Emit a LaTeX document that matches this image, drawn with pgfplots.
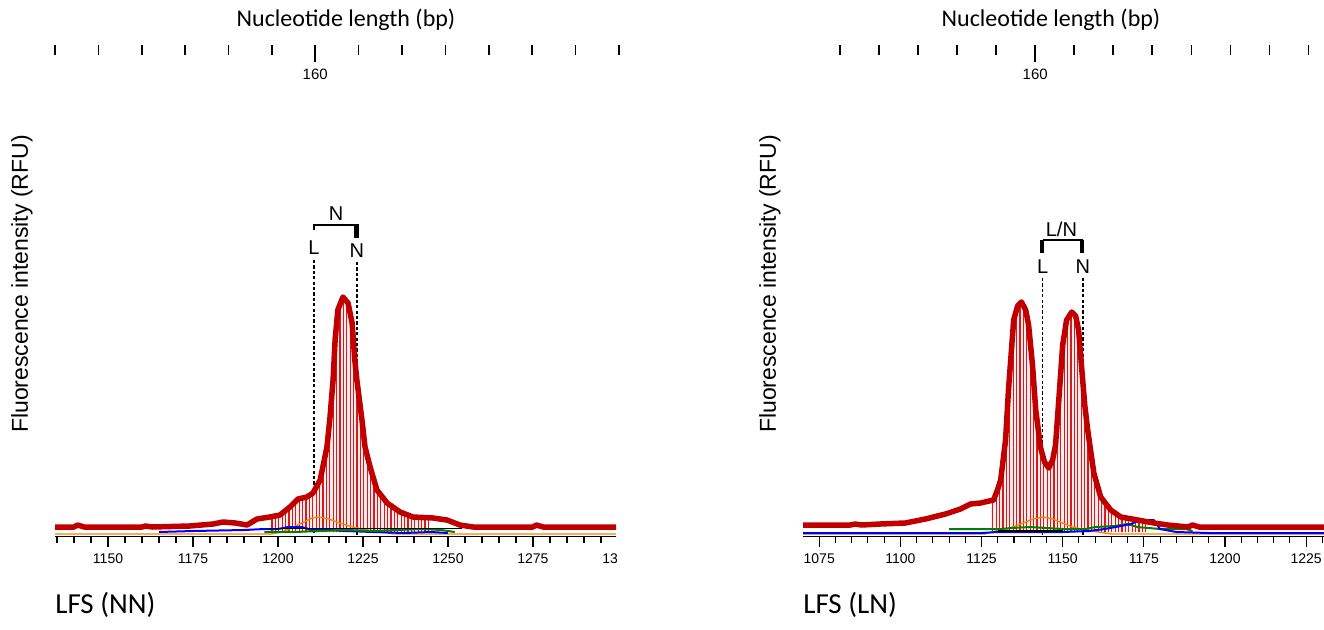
\documentclass[border=0pt]{standalone}
\usepackage{pgfplots}
\pgfplotsset{compat=1.18}
\usetikzlibrary{patterns.meta}
\usepackage{fontspec}
\setmainfont{Liberation Sans}
\newfontfamily\calibri{Carlito}

\definecolor{fsared}{RGB}{192,0,0}
\definecolor{stemred}{RGB}{212,28,28}
\definecolor{fsaorange}{RGB}{255,128,0}
\definecolor{fsablue}{RGB}{0,0,255}
\definecolor{fsagreen}{RGB}{0,128,0}

\pgfplotsset{
  trace/.style={scale only axis, anchor=south west, height=218pt,
    ymin=-4, ymax=432, axis y line=none, axis x line*=bottom,
    x axis line style={black, line width=0.5pt, -},
    xtick={1075,1100,...,1300}, minor x tick num=4,
    tick align=outside, major tick length=5.5pt, minor tick length=3.5pt,
    tick style={black, line width=0.55pt},
    xticklabel style={font=\fontsize{7}{8}\selectfont},
    /pgf/number format/1000 sep={},
    /pgf/number format/assume math mode=true},
  bpaxis/.style={scale only axis, anchor=south west, height=1pt,
    ymin=0, ymax=1, axis y line=none, axis x line*=bottom,
    x axis line style={draw=none},
    xtick={160}, minor xtick={154,155,...,167},
    tick align=outside, major tick length=8.5pt, minor tick length=5pt,
    tick style={black, line width=0.8pt},
    xticklabel style={font=\fontsize{7.5}{8}\selectfont},
    /pgf/number format/assume math mode=true},
  redline/.style={fsared, line width=2.75pt, line join=round},
  stems/.style={draw=none, preaction={fill=red!8},
    pattern={Lines[angle=90,distance=1.7pt,line width=0.6pt]}, pattern color=stemred},
  marker/.style={black, line width=0.9pt, dash pattern=on 1.6pt off 1.1pt},
}

\begin{document}
\begin{tikzpicture}
\path[use as bounding box] (0,0) rectangle (662pt,314.5pt);

% ---------------- LFS (NN) ----------------
\begin{scope}
\clip (0,0) rectangle (308pt,314.5pt);
\begin{axis}[trace, at={(27.5pt,46.5pt)}, width=283pt, xmin=1134.4, xmax=1300.9]
% allele marker lines
\addplot[marker] coordinates {(1210.6,272) (1210.6,-3)};
\addplot[marker] coordinates {(1223.2,270) (1223.2,-3)};
% filled peak region
\addplot[stems] coordinates {(1197.5,-3) (1197.5,15) (1200.6,17) (1203.5,25) (1205.9,33)
  (1208.5,35) (1210.3,39) (1212.4,52) (1214.4,85) (1215.3,115) (1216.2,152) (1216.8,192)
  (1217.6,222) (1219.1,235) (1220.6,229) (1221.8,209) (1222.6,172) (1223.2,152) (1224.7,112)
  (1225.6,85) (1227.1,65) (1229.1,42) (1232.1,29) (1235.9,20) (1239.7,15) (1244.5,14)
  (1244.5,-3)} \closedcycle;
% other dye channels
\addplot[fsaorange, line width=0.7pt] coordinates {(1134.4,-2) (1198,-2) (1201,0) (1204,4)
  (1207,9) (1210,14) (1212,15) (1215,13) (1218,9) (1222,5) (1226,2) (1230,0) (1234,-2) (1300.9,-2)};
\addplot[fsablue, line width=1pt] coordinates {(1165,0) (1175,1) (1190,2) (1196,3) (1200,3)
  (1203,5) (1207,5) (1210,2) (1215,2) (1220,1) (1228,0) (1237,-1) (1245,0) (1250,-1)};
\addplot[fsagreen, line width=1pt] coordinates {(1196,0) (1205,0) (1212,1) (1220,2) (1228,1)
  (1235,2) (1242,3) (1248,2) (1252,0)};
\addplot[black, line width=0.5pt] coordinates {(1197,4) (1254,4)};
\addplot[black, line width=1pt] coordinates {(1289,4) (1293,4)};
\addplot[black, line width=1pt] coordinates {(1295,4) (1299,4)};
% main trace
\addplot[redline] coordinates {(1134.4,5) (1140,5) (1141,7) (1143,5) (1160,5) (1161,6)
  (1163,5) (1174,6) (1180.9,8) (1183.8,10) (1187.4,9) (1190.9,7) (1193.8,13) (1197.6,15)
  (1200.6,17) (1203.5,25) (1205.9,33) (1208.5,35) (1210.3,39) (1212.4,52) (1214.4,85)
  (1215.3,115) (1216.2,152) (1216.8,192) (1217.6,222) (1219.1,235) (1220.6,229) (1221.8,209)
  (1222.6,172) (1223.2,152) (1224.7,112) (1225.6,85) (1227.1,65) (1229.1,42) (1232.1,29)
  (1235.9,20) (1239.7,15) (1245.6,14) (1249.7,12) (1253.5,7) (1257.4,5) (1275,5) (1276,7)
  (1278,5) (1300.9,5)};
% bin bracket
\draw[black, line width=0.6pt] (axis cs:1210.6,302) -- (axis cs:1210.6,307) -- (axis cs:1223.9,307);
\draw[black, line width=2.5pt] (axis cs:1223.2,307.3) -- (axis cs:1223.2,294);
\node[font=\fontsize{10}{11}\selectfont] at (axis cs:1217.1,318) {N};
\node[font=\fontsize{10}{11}\selectfont] at (axis cs:1210.6,284) {L};
\node[font=\fontsize{10}{11}\selectfont] at (axis cs:1223.2,281) {N};
\end{axis}
\end{scope}
\begin{axis}[bpaxis, at={(27.5pt,292pt)}, width=283pt, xmin=154.0, xmax=167.05]
\end{axis}
\node[font=\calibri\fontsize{12}{14}\selectfont] at (173pt,304.5pt) {Nucleotide length (bp)};
\node[rotate=90, font=\fontsize{11.5}{13}\selectfont] at (11pt,172.5pt) {Fluorescence intensity (RFU)};
\node[anchor=west, inner sep=0pt, font=\calibri\fontsize{14.5}{16}\selectfont] at (27.5pt,12pt) {LFS (NN)};

% ---------------- LFS (LN) ----------------
\begin{axis}[trace, at={(401.5pt,46.5pt)}, width=260.5pt, xmin=1070, xmax=1230.5]
\addplot[marker] coordinates {(1143.8,254) (1143.8,-3)};
\addplot[marker] coordinates {(1156.2,254) (1156.2,-3)};
\addplot[stems] coordinates {(1127.8,-3) (1127.8,31) (1128.7,32) (1129.9,42) (1130.9,52)
  (1132.4,92) (1133.3,142) (1134.9,212) (1136.1,226) (1137.3,230) (1138.6,222) (1139.5,207)
  (1140.7,167) (1141.7,122) (1143.2,84) (1144.4,70) (1145.7,64) (1146.9,72) (1147.8,87)
  (1148.8,132) (1150.0,187) (1151.2,212) (1152.8,220) (1154.0,216) (1154.9,202) (1155.9,162)
  (1156.8,127) (1157.7,102) (1159.6,59) (1161.7,35) (1164.8,22) (1167.9,15) (1173.1,12)
  (1176.3,10) (1176.3,-3)} \closedcycle;
\addplot[fsaorange, line width=0.7pt] coordinates {(1070,-2) (1126,-2) (1128,0) (1133,3)
  (1137,8) (1141,13) (1144,15) (1147,13) (1150,9) (1153,5) (1157,2) (1161,0) (1165,-2) (1230.5,-2)};
\addplot[fsagreen, line width=1pt] coordinates {(1115,3) (1131,3) (1134,4) (1140,5) (1145,4)
  (1150,3) (1157,3) (1160,5) (1166,6) (1170,8) (1173,5) (1180,3) (1188,3) (1190,1)};
\addplot[fsablue, line width=1pt] coordinates {(1070,-1) (1125,-1) (1130,0) (1150,0) (1158,1)
  (1163,3) (1168,6) (1171,8) (1174,12) (1178,12) (1180,3) (1185,0) (1195,-1) (1230.5,-1)};
\addplot[black, line width=1pt] coordinates {(1130,1) (1150,1)};
\addplot[redline] coordinates {(1070,7) (1084.6,7) (1086,8) (1088,7) (1093.8,8) (1101.5,9)
  (1107.7,13) (1113.9,18) (1118.5,23) (1121.6,28) (1124.7,29) (1128.7,32) (1129.9,42)
  (1130.9,52) (1132.4,92) (1133.3,142) (1134.9,212) (1136.1,226) (1137.3,230) (1138.6,222)
  (1139.5,207) (1140.7,167) (1141.7,122) (1143.2,84) (1144.4,70) (1145.7,64) (1146.9,72)
  (1147.8,87) (1148.8,132) (1150.0,187) (1151.2,212) (1152.8,220) (1154.0,216) (1154.9,202)
  (1155.9,162) (1156.8,127) (1157.7,102) (1159.6,59) (1161.7,35) (1164.8,22) (1167.9,15)
  (1173.1,12) (1178.1,9) (1182.4,7) (1188.6,5) (1190,7) (1192,5) (1230.5,5)};
\draw[black, line width=0.6pt] (axis cs:1143.8,292) -- (axis cs:1156.2,292);
\draw[black, line width=2pt] (axis cs:1143.5,292.3) -- (axis cs:1143.5,279);
\draw[black, line width=2pt] (axis cs:1156.0,292.3) -- (axis cs:1156.0,279);
\node[font=\fontsize{10}{11}\selectfont] at (axis cs:1149.6,303) {L/N};
\node[font=\fontsize{10}{11}\selectfont] at (axis cs:1143.8,265) {L};
\node[font=\fontsize{10}{11}\selectfont] at (axis cs:1156.2,265) {N};
\end{axis}
\begin{axis}[bpaxis, at={(401.5pt,292pt)}, width=260.5pt, xmin=154.05, xmax=167.4]
\end{axis}
\node[font=\calibri\fontsize{12}{14}\selectfont] at (525.5pt,304.5pt) {Nucleotide length (bp)};
\node[rotate=90, font=\fontsize{11.5}{13}\selectfont] at (385pt,172.5pt) {Fluorescence intensity (RFU)};
\node[anchor=west, inner sep=0pt, font=\calibri\fontsize{14.5}{16}\selectfont] at (401.5pt,12pt) {LFS (LN)};
\end{tikzpicture}
\end{document}
